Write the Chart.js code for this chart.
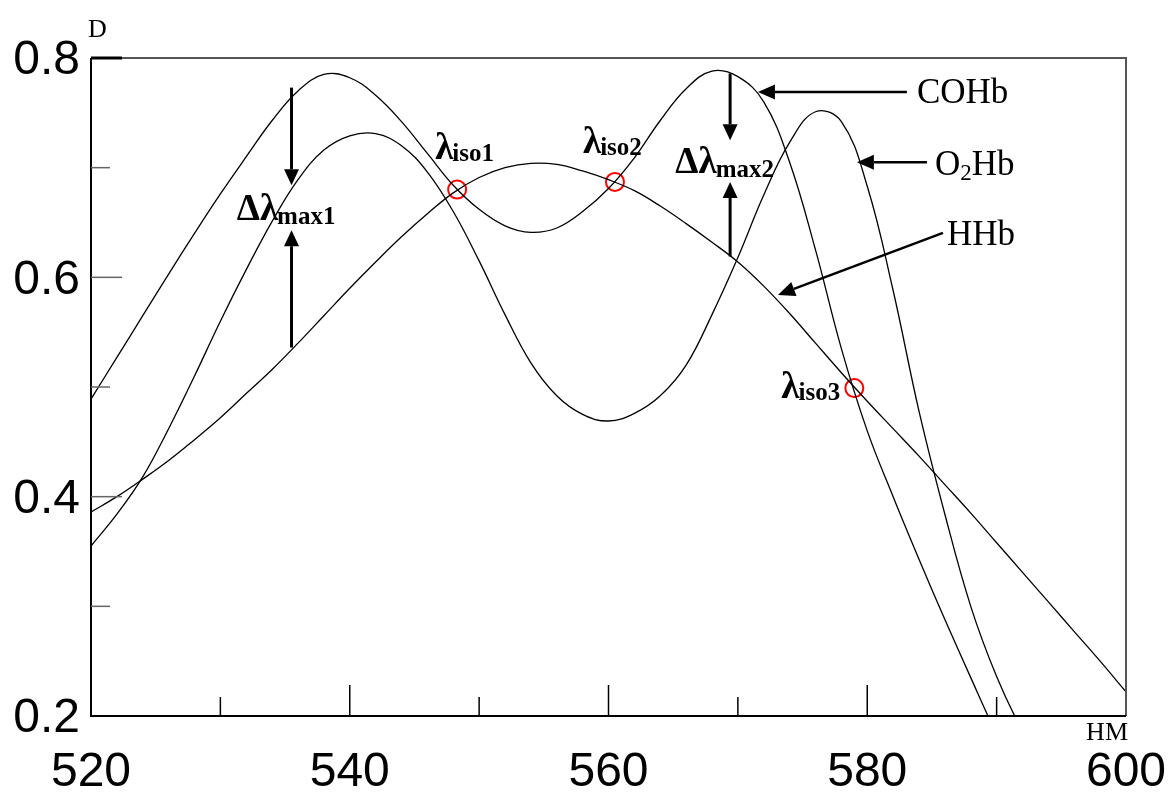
<!DOCTYPE html>
<html>
<head>
<meta charset="utf-8">
<script src="https://cdn.jsdelivr.net/npm/chart.js@4.4.0/dist/chart.umd.min.js"></script>
<style>
	html, body { margin: 0; padding: 0; background: #fff; }
	#wrap { width: 1176px; height: 797px; position: relative; }
</style>
</head>
<body>
<div id="wrap"><canvas id="spectra"></canvas></div>
<script>
// wavelengths, nm
const wavelengths = [
	520, 522, 524, 526, 528, 530, 532, 534, 536, 538,
	540, 542, 544, 546, 548, 550, 552, 554, 556, 558,
	560, 562, 564, 566, 568, 570, 572, 574, 576, 578,
	580, 582, 584, 586, 588, 590, 592, 594, 596, 598, 600,
];
const cohb = [
	0.489, 0.527, 0.565, 0.603, 0.640, 0.676, 0.710, 0.743, 0.770, 0.785,
	0.782, 0.766, 0.742, 0.713, 0.684, 0.662, 0.647, 0.641, 0.645, 0.660,
	0.681, 0.709, 0.743, 0.772, 0.788, 0.783, 0.760, 0.705, 0.625, 0.535,
	0.460, 0.400, 0.343, 0.288, 0.235, 0.183, 0.135, 0.090, 0.050, 0.015, -0.020,
];
const o2hb = [
	0.355, 0.384, 0.418, 0.462, 0.510, 0.560, 0.607, 0.651, 0.689, 0.716,
	0.729, 0.731, 0.720, 0.696, 0.660, 0.615, 0.566, 0.522, 0.492, 0.475,
	0.469, 0.476, 0.492, 0.520, 0.566, 0.618, 0.675, 0.723, 0.751, 0.742,
	0.683, 0.588, 0.478, 0.384, 0.300, 0.236, 0.186, 0.146, 0.110, 0.080, 0.055,
];
const hhb = [
	0.386, 0.400, 0.416, 0.433, 0.452, 0.472, 0.494, 0.516, 0.540, 0.565,
	0.590, 0.614, 0.637, 0.658, 0.677, 0.691, 0.700, 0.704, 0.703, 0.697,
	0.689, 0.679, 0.665, 0.649, 0.632, 0.614, 0.592, 0.567, 0.540, 0.513,
	0.487, 0.462, 0.437, 0.411, 0.385, 0.358, 0.331, 0.304, 0.277, 0.250, 0.222,
];

// isosbestic points
const isoX = [548.3, 560.5, 579.0];
const isoY = [0.680, 0.687, 0.499];
const isoNames = ["iso1", "iso2", "iso3"];

// delta lambda max markers: x, top (on COHb), bottom (on HHb)
const dMaxNames = ["max1", "max2"];
const dMaxX = [535.5, 569.4];
const dMaxTop = [0.773, 0.786];
const dMaxBottom = [0.536, 0.619];
const dMaxTipDown = [0.684, 0.725];
const dMaxTipUp = [0.643, 0.687];

// curve name tags, arrow tips
const tagNames = ["COHb", "O2Hb", "HHb"];
const tagTipX = [571.55, 579.2, 573.1];
const tagTipY = [0.769, 0.705, 0.584];

const xTicks = [520, 540, 560, 580, 600];
const yTicks = [0.2, 0.4, 0.6, 0.8];

const serif = '"Liberation Serif", "Times New Roman", serif';

function toPoints(xs, ys) {
	return xs.map((x, i) => ({ x: x, y: ys[i] }));
}

function drawArrow(ctx, x1, y1, x2, y2, headLen, headW, lw) {
	const ang = Math.atan2(y2 - y1, x2 - x1);
	const bx = x2 - headLen * Math.cos(ang);
	const by = y2 - headLen * Math.sin(ang);
	ctx.lineWidth = lw;
	ctx.beginPath();
	ctx.moveTo(x1, y1);
	ctx.lineTo(bx, by);
	ctx.stroke();
	ctx.beginPath();
	ctx.moveTo(x2, y2);
	ctx.lineTo(bx + (headW / 2) * Math.sin(ang), by - (headW / 2) * Math.cos(ang));
	ctx.lineTo(bx - (headW / 2) * Math.sin(ang), by + (headW / 2) * Math.cos(ang));
	ctx.closePath();
	ctx.fill();
}

const decorPlugin = {
	id: "decor",
	afterDatasetsDraw(chart) {
		const ctx = chart.ctx;
		const { left, right, top, bottom } = chart.chartArea;
		const xs = chart.scales.x;
		const ys = chart.scales.y;
		ctx.save();

		// frame
		ctx.lineWidth = 2;
		ctx.strokeStyle = "#555";
		ctx.beginPath();
		ctx.moveTo(left, top);
		ctx.lineTo(right, top);
		ctx.lineTo(right, bottom);
		ctx.stroke();
		ctx.strokeStyle = "#000";
		ctx.beginPath();
		ctx.moveTo(left, top);
		ctx.lineTo(left, bottom);
		ctx.lineTo(right, bottom);
		ctx.stroke();
		ctx.lineWidth = 3;
		ctx.beginPath();
		ctx.moveTo(left, top);
		ctx.lineTo(left + 31, top);
		ctx.stroke();

		// inner ticks
		ctx.lineWidth = 1.5;
		ctx.strokeStyle = "#000";
		for (let v = 530; v <= 590; v += 10) {
			const px = xs.getPixelForValue(v);
			const len = v % 20 === 0 ? 31 : 19;
			ctx.beginPath();
			ctx.moveTo(px, bottom);
			ctx.lineTo(px, bottom - len);
			ctx.stroke();
		}
		ctx.strokeStyle = "#666";
		[0.3, 0.4, 0.5, 0.6, 0.7].forEach((v, i) => {
			const py = ys.getPixelForValue(v);
			const len = i % 2 === 1 ? 31 : 19;
			ctx.beginPath();
			ctx.moveTo(left, py);
			ctx.lineTo(left + len, py);
			ctx.stroke();
		});

		ctx.strokeStyle = "#000";
		ctx.fillStyle = "#000";

		// delta lambda max arrows + labels
		dMaxX.forEach((x, i) => {
			const px = xs.getPixelForValue(x);
			const yT = ys.getPixelForValue(dMaxTop[i]);
			const yB = ys.getPixelForValue(dMaxBottom[i]);
			const tD = ys.getPixelForValue(dMaxTipDown[i]);
			const tU = ys.getPixelForValue(dMaxTipUp[i]);
			drawArrow(ctx, px, yT, px, tD, 16, 15, 3);
			drawArrow(ctx, px, yB, px, tU, 16, 15, 3);

			const mid = (tD + tU) / 2;
			ctx.font = "bold 37px " + serif;
			const w1 = ctx.measureText("\u0394\u03bb").width;
			ctx.font = "bold 25px " + serif;
			const w2 = ctx.measureText(dMaxNames[i]).width;
			const x0 = px - 5 - (w1 + w2) / 2;
			ctx.textAlign = "left";
			ctx.textBaseline = "alphabetic";
			ctx.font = "bold 37px " + serif;
			ctx.fillText("\u0394\u03bb", x0, mid + 12);
			ctx.font = "bold 25px " + serif;
			ctx.fillText(dMaxNames[i], x0 + w1 - 1, mid + 16);
		});

		// iso labels
		const isoDx = [-22, -32, -73];
		const isoDy = [-31, -29, 10];
		isoX.forEach((x, i) => {
			const px = xs.getPixelForValue(x);
			const py = ys.getPixelForValue(isoY[i]);
			ctx.textAlign = "left";
			ctx.font = "bold 37px " + serif;
			ctx.fillText("\u03bb", px + isoDx[i], py + isoDy[i]);
			const w = ctx.measureText("\u03bb").width;
			ctx.font = "bold 25px " + serif;
			ctx.fillText(isoNames[i], px + isoDx[i] + w - 1, py + isoDy[i] + 2);
		});

		// curve name tags
		const tailDx = [149, 70, 165];
		const tailDy = [0, 0, -62];
		const textDx = [10, 8, 4];
		const textDy = [11, 13, 12];
		tagNames.forEach((name, i) => {
			const tx = xs.getPixelForValue(tagTipX[i]);
			const ty = ys.getPixelForValue(tagTipY[i]);
			const sx = tx + tailDx[i];
			const sy = ty + tailDy[i];
			drawArrow(ctx, sx, sy, tx, ty, 17, 15, 2.5);
			let cx = sx + textDx[i];
			const base = sy + textDy[i];
			ctx.textAlign = "left";
			if (name === "O2Hb") {
				ctx.font = "35px " + serif;
				ctx.fillText("O", cx, base);
				cx += ctx.measureText("O").width;
				ctx.font = "23px " + serif;
				ctx.fillText("2", cx, base + 5);
				cx += ctx.measureText("2").width;
				ctx.font = "35px " + serif;
				ctx.fillText("Hb", cx, base);
			} else {
				ctx.font = "35px " + serif;
				ctx.fillText(name, cx, base);
			}
		});

		// axis letters
		ctx.font = "26px " + serif;
		ctx.textAlign = "left";
		ctx.fillText("D", left - 3, top - 21);
		ctx.textAlign = "right";
		ctx.fillText("HM", right + 2, bottom + 24);

		ctx.restore();
	},
};

const data = {
	datasets: [
		{
			label: "COHb",
			data: toPoints(wavelengths, cohb),
			borderColor: "#000",
			borderWidth: 1.3,
			pointRadius: 0,
			tension: 0.4,
		},
		{
			label: "O2Hb",
			data: toPoints(wavelengths, o2hb),
			borderColor: "#000",
			borderWidth: 1.3,
			pointRadius: 0,
			tension: 0.4,
		},
		{
			label: "HHb",
			data: toPoints(wavelengths, hhb),
			borderColor: "#000",
			borderWidth: 1.3,
			pointRadius: 0,
			tension: 0.4,
		},
		{
			type: "scatter",
			label: "iso",
			data: toPoints(isoX, isoY),
			pointStyle: "circle",
			pointRadius: 9,
			borderColor: "#ff0000",
			backgroundColor: "rgba(0,0,0,0)",
			borderWidth: 2,
		},
	],
};

new Chart(document.getElementById("spectra"), {
	type: "line",
	data: data,
	options: {
		responsive: true,
		maintainAspectRatio: false,
		animation: false,
		events: [],
		layout: { padding: { top: 58, right: 50, left: 0, bottom: 0 } },
		plugins: {
			legend: { display: false },
			tooltip: { enabled: false },
		},
		scales: {
			x: {
				type: "linear",
				min: 520,
				max: 600,
				afterFit: (s) => {
					s.height = 81;
					s.paddingLeft = 0;
					s.paddingRight = 0;
				},
				afterBuildTicks: (s) => { s.ticks = xTicks.map((v) => ({ value: v })); },
				grid: { display: false, drawTicks: false },
				border: { display: false },
				ticks: {
					padding: 28,
					color: "#000",
					font: { family: '"Liberation Sans", Arial, sans-serif', size: 48 },
					maxRotation: 0,
					autoSkip: false,
				},
			},
			y: {
				min: 0.2,
				max: 0.8,
				afterFit: (s) => {
					s.width = 91;
					s.paddingTop = 0;
					s.paddingBottom = 0;
				},
				afterBuildTicks: (s) => { s.ticks = yTicks.map((v) => ({ value: v })); },
				grid: { display: false, drawTicks: false },
				border: { display: false },
				ticks: {
					padding: 11,
					labelOffset: 3,
					color: "#000",
					font: { family: '"Liberation Sans", Arial, sans-serif', size: 48 },
					callback: (v) => v.toFixed(1),
				},
			},
		},
	},
	plugins: [decorPlugin],
});
</script>
</body>
</html>
